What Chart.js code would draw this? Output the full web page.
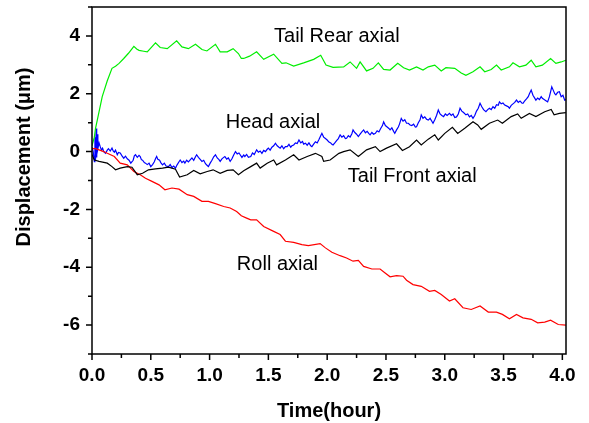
<!DOCTYPE html>
<html>
<head>
<meta charset="utf-8">
<script src="https://cdn.jsdelivr.net/npm/chart.js@4.4.1/dist/chart.umd.min.js"></script>
<style>
  html, body { margin: 0; padding: 0; background: #fff; }
</style>
</head>
<body>
<canvas id="chart" width="589" height="423"></canvas>
<script>
/* ── Data: [time (hour), displacement (µm)] ── */
const rearPts = [[0,0.2],[0.02,0.5],[0.03,0.8],[0.045,1.09],[0.087,1.9],[0.13,2.45],[0.17,2.88],[0.2,2.95],[0.23,3.05],[0.27,3.22],[0.31,3.4],[0.356,3.64],[0.38,3.55],[0.40,3.5],[0.44,3.47],[0.47,3.45],[0.54,3.76],[0.58,3.6],[0.64,3.56],[0.72,3.83],[0.765,3.62],[0.82,3.56],[0.88,3.71],[0.935,3.53],[0.977,3.48],[1.05,3.71],[1.09,3.45],[1.15,3.45],[1.20,3.56],[1.245,3.39],[1.27,3.22],[1.29,3.22],[1.34,3.3],[1.40,3.45],[1.46,3.19],[1.545,3.37],[1.615,3.05],[1.65,3.07],[1.715,2.96],[1.80,3.07],[1.885,3.19],[1.945,3.33],[1.99,2.99],[2.05,2.91],[2.14,2.93],[2.195,3.10],[2.25,2.88],[2.28,3.10],[2.335,2.79],[2.39,2.88],[2.435,3.07],[2.48,2.84],[2.535,2.82],[2.60,3.05],[2.65,2.9],[2.70,2.82],[2.76,2.93],[2.815,2.82],[2.86,2.93],[2.915,2.99],[2.97,2.79],[3.01,2.9],[3.085,2.88],[3.14,2.72],[3.18,2.64],[3.24,2.76],[3.30,2.93],[3.34,2.76],[3.395,2.84],[3.44,2.99],[3.48,2.82],[3.55,2.93],[3.58,3.07],[3.635,2.93],[3.69,2.99],[3.735,3.16],[3.775,2.93],[3.83,2.99],[3.90,3.22],[3.945,3.05],[3.99,3.1],[4.03,3.16]];

const frontPts = [[0,-0.1],[0.02,-0.29],[0.06,-0.34],[0.13,-0.4],[0.17,-0.52],[0.2,-0.63],[0.24,-0.57],[0.30,-0.52],[0.34,-0.54],[0.385,-0.80],[0.43,-0.75],[0.48,-0.63],[0.54,-0.6],[0.60,-0.57],[0.65,-0.54],[0.71,-0.61],[0.745,-0.88],[0.81,-0.80],[0.865,-0.65],[0.92,-0.77],[0.98,-0.69],[1.03,-0.63],[1.09,-0.75],[1.15,-0.65],[1.20,-0.63],[1.245,-0.80],[1.29,-0.66],[1.35,-0.52],[1.40,-0.40],[1.43,-0.57],[1.49,-0.40],[1.545,-0.29],[1.57,-0.46],[1.645,-0.29],[1.715,-0.11],[1.76,-0.29],[1.83,-0.17],[1.90,-0.06],[1.955,-0.17],[1.97,-0.34],[2.025,-0.29],[2.10,-0.06],[2.14,0],[2.195,0.06],[2.265,-0.17],[2.335,0.06],[2.41,0.17],[2.45,0],[2.505,0.12],[2.59,0.27],[2.64,0.04],[2.70,0.17],[2.76,0.40],[2.80,0.23],[2.86,0.43],[2.915,0.58],[2.945,0.40],[3.0,0.63],[3.065,0.84],[3.11,0.63],[3.17,0.81],[3.24,1.03],[3.28,0.92],[3.31,0.77],[3.38,0.98],[3.45,1.09],[3.49,0.98],[3.565,1.21],[3.62,1.30],[3.65,1.15],[3.72,1.32],[3.775,1.21],[3.85,1.38],[3.905,1.46],[3.93,1.27],[3.975,1.32],[4.03,1.35]];

const rollPts = [[0,0.1],[0.03,0.1],[0.06,0.06],[0.1,0.0],[0.13,-0.06],[0.19,-0.17],[0.24,-0.40],[0.30,-0.46],[0.356,-0.69],[0.41,-0.80],[0.455,-0.92],[0.51,-1.03],[0.57,-1.15],[0.62,-1.32],[0.68,-1.26],[0.74,-1.30],[0.81,-1.49],[0.865,-1.55],[0.935,-1.72],[0.99,-1.72],[1.05,-1.80],[1.12,-1.90],[1.175,-1.95],[1.23,-2.07],[1.27,-2.22],[1.315,-2.30],[1.35,-2.36],[1.40,-2.36],[1.46,-2.59],[1.545,-2.76],[1.60,-2.87],[1.645,-3.10],[1.715,-3.14],[1.785,-3.22],[1.84,-3.25],[1.94,-3.18],[1.985,-3.33],[2.04,-3.48],[2.11,-3.60],[2.165,-3.68],[2.22,-3.79],[2.265,-3.76],[2.31,-3.97],[2.38,-4.06],[2.45,-4.06],[2.49,-4.19],[2.535,-4.33],[2.59,-4.29],[2.645,-4.31],[2.675,-4.45],[2.73,-4.60],[2.80,-4.66],[2.87,-4.83],[2.915,-4.80],[2.97,-4.94],[3.04,-5.17],[3.085,-5.09],[3.155,-5.40],[3.225,-5.46],[3.30,-5.34],[3.37,-5.55],[3.44,-5.55],[3.49,-5.63],[3.55,-5.78],[3.61,-5.63],[3.665,-5.75],[3.735,-5.80],[3.79,-5.92],[3.85,-5.90],[3.90,-5.83],[3.965,-5.98],[4.03,-6.0]];

const headPts = [[0,0.15],[0.01,0.0],[0.02,-0.35],[0.025,0.5],[0.03,-0.3],[0.035,0.8],[0.04,-0.2],[0.045,0.6],[0.05,0.1],[0.06,0.3],[0.07,0.17],[0.08,0.05],[0.09,0.12],[0.1,0.0],[0.115,-0.06],[0.13,0.05],[0.14,0.1],[0.155,0.02],[0.17,0.12],[0.18,0.02],[0.19,-0.02],[0.2,0.05],[0.215,-0.11],[0.225,-0.03],[0.24,-0.05],[0.255,-0.15],[0.27,-0.23],[0.285,-0.16],[0.30,-0.25],[0.315,-0.3],[0.33,-0.40],[0.35,-0.3],[0.36,-0.15],[0.37,-0.11],[0.385,-0.2],[0.4,-0.13],[0.41,-0.17],[0.42,-0.28],[0.43,-0.3],[0.445,-0.38],[0.455,-0.40],[0.47,-0.45],[0.485,-0.4],[0.5,-0.52],[0.515,-0.45],[0.53,-0.35],[0.54,-0.25],[0.55,-0.17],[0.56,-0.27],[0.575,-0.3],[0.585,-0.38],[0.6,-0.46],[0.615,-0.4],[0.63,-0.5],[0.65,-0.52],[0.665,-0.45],[0.68,-0.55],[0.695,-0.5],[0.71,-0.57],[0.725,-0.45],[0.74,-0.35],[0.75,-0.29],[0.765,-0.38],[0.78,-0.33],[0.79,-0.40],[0.805,-0.3],[0.82,-0.36],[0.835,-0.29],[0.85,-0.22],[0.865,-0.3],[0.88,-0.18],[0.89,-0.11],[0.905,-0.2],[0.92,-0.27],[0.935,-0.34],[0.95,-0.3],[0.965,-0.42],[0.98,-0.48],[0.99,-0.52],[1.005,-0.4],[1.02,-0.3],[1.035,-0.18],[1.05,-0.11],[1.065,-0.22],[1.08,-0.28],[1.09,-0.34],[1.105,-0.25],[1.12,-0.2],[1.13,-0.17],[1.145,-0.26],[1.16,-0.22],[1.175,-0.34],[1.19,-0.25],[1.205,-0.12],[1.22,0],[1.235,-0.08],[1.25,-0.05],[1.26,-0.11],[1.275,-0.2],[1.29,-0.12],[1.30,-0.17],[1.315,-0.1],[1.33,-0.2],[1.35,-0.17],[1.365,-0.05],[1.38,-0.1],[1.40,0.06],[1.415,-0.02],[1.43,0.02],[1.445,-0.06],[1.46,0.04],[1.475,0.0],[1.49,0.08],[1.50,0.12],[1.515,0.05],[1.53,0.15],[1.545,0.2],[1.56,0.29],[1.575,0.2],[1.59,0.15],[1.60,0.12],[1.615,0.2],[1.63,0.1],[1.645,0.17],[1.66,0.17],[1.675,0.25],[1.69,0.15],[1.7,0.2],[1.715,0.23],[1.73,0.3],[1.745,0.28],[1.76,0.40],[1.775,0.3],[1.79,0.35],[1.80,0.26],[1.815,0.29],[1.83,0.22],[1.845,0.3],[1.86,0.2],[1.87,0.17],[1.885,0.26],[1.9,0.34],[1.915,0.3],[1.93,0.42],[1.945,0.55],[1.955,0.63],[1.97,0.5],[1.985,0.45],[2.0,0.40],[2.015,0.33],[2.03,0.3],[2.04,0.25],[2.05,0.23],[2.065,0.3],[2.08,0.38],[2.095,0.45],[2.11,0.58],[2.125,0.5],[2.14,0.55],[2.155,0.45],[2.165,0.46],[2.18,0.55],[2.195,0.5],[2.21,0.62],[2.22,0.75],[2.235,0.66],[2.25,0.6],[2.265,0.52],[2.28,0.6],[2.295,0.68],[2.31,0.75],[2.325,0.65],[2.34,0.7],[2.355,0.62],[2.365,0.58],[2.38,0.66],[2.395,0.6],[2.41,0.63],[2.425,0.72],[2.44,0.68],[2.455,0.8],[2.47,0.9],[2.48,1.03],[2.495,0.9],[2.51,0.85],[2.525,0.8],[2.535,0.75],[2.55,0.82],[2.565,0.7],[2.575,0.63],[2.59,0.75],[2.605,0.85],[2.615,0.95],[2.63,1.15],[2.645,1.05],[2.66,1.1],[2.675,0.98],[2.69,0.98],[2.705,0.92],[2.72,0.9],[2.735,0.95],[2.75,0.85],[2.76,0.86],[2.775,1.0],[2.79,1.1],[2.80,1.27],[2.815,1.15],[2.83,1.2],[2.845,1.12],[2.86,1.09],[2.875,1.15],[2.89,1.05],[2.90,0.98],[2.915,1.1],[2.93,1.25],[2.945,1.44],[2.96,1.3],[2.975,1.25],[2.99,1.21],[3.005,1.3],[3.02,1.25],[3.04,1.32],[3.055,1.25],[3.07,1.3],[3.085,1.18],[3.1,1.2],[3.115,1.3],[3.13,1.50],[3.145,1.4],[3.16,1.35],[3.18,1.27],[3.195,1.3],[3.21,1.2],[3.225,1.25],[3.24,1.15],[3.255,1.25],[3.27,1.4],[3.285,1.5],[3.30,1.67],[3.315,1.55],[3.33,1.45],[3.35,1.38],[3.365,1.45],[3.38,1.5],[3.395,1.45],[3.41,1.55],[3.425,1.5],[3.44,1.62],[3.455,1.6],[3.465,1.72],[3.48,1.65],[3.495,1.68],[3.51,1.61],[3.525,1.58],[3.54,1.55],[3.55,1.50],[3.565,1.6],[3.58,1.65],[3.595,1.7],[3.61,1.78],[3.625,1.7],[3.64,1.75],[3.655,1.68],[3.665,1.67],[3.68,1.75],[3.695,1.82],[3.71,1.9],[3.72,2.0],[3.735,2.13],[3.75,1.95],[3.765,1.85],[3.775,1.78],[3.79,1.85],[3.805,1.8],[3.82,1.9],[3.83,1.84],[3.845,1.8],[3.86,1.76],[3.875,1.72],[3.89,1.9],[3.91,2.24],[3.925,2.1],[3.935,2.0],[3.945,1.96],[3.96,2.05],[3.975,2.07],[3.99,1.9],[4.005,1.95],[4.02,1.78],[4.03,1.8]];

const seriesNames = ['Tail Front axial', 'Roll axial', 'Tail Rear axial', 'Head axial'];

/* ── Axis ranges ── */
const xMin = 0, xMax = 4.031, xStep = 0.25;
const yMin = -7, yMax = 5, yStep = 1;
const xTitle = 'Time(hour)';
const yTitle = 'Displacement (\u03bcm)';

const FONT = '"Liberation Sans", Arial, sans-serif';

/* ── Helpers ── */
const toXY = pts => pts.map(p => ({ x: p[0], y: p[1] }));
const isMajorX = v => Math.abs(v * 2 - Math.round(v * 2)) < 1e-6;
const isMajorY = v => Math.abs(v % 2) < 1e-6;

function lineSet(label, pts, color) {
  return {
    label, data: toXY(pts),
    borderColor: color, borderWidth: 1.2,
    pointRadius: 0, tension: 0, fill: false,
  };
}

// drop the half-label padding Chart.js reserves around the axes
function fixBox(size) {
  return s => {
    if (s.isHorizontal()) s.height = size; else s.width = size;
    s.paddingTop = 0; s.paddingBottom = 0; s.paddingLeft = 0; s.paddingRight = 0;
  };
}

/* ── Frame, tick marks, in-plot labels and axis titles ── */
const decor = {
  id: 'decor',
  afterDatasetsDraw(chart) {
    const { ctx, chartArea: a, scales: { x, y } } = chart;
    ctx.save();
    ctx.strokeStyle = '#000';
    ctx.lineWidth = 1.5;
    ctx.strokeRect(a.left, a.top, a.right - a.left, a.bottom - a.top);

    ctx.beginPath();
    x.ticks.forEach(t => {
      const px = x.getPixelForValue(t.value);
      ctx.moveTo(px, a.bottom);
      ctx.lineTo(px, a.bottom + (isMajorX(t.value) ? 6 : 4));
    });
    y.ticks.forEach(t => {
      const py = y.getPixelForValue(t.value);
      ctx.moveTo(a.left, py);
      ctx.lineTo(a.left - (isMajorY(t.value) ? 6 : 4), py);
    });
    ctx.stroke();

    // series labels, anchored in data units
    const spots = [[2.175, -1.04], [1.232, -4.10], [1.548, 3.80], [1.137, 0.81]];
    ctx.fillStyle = '#000';
    ctx.font = '20px ' + FONT;
    ctx.textBaseline = 'alphabetic';
    ctx.textAlign = 'left';
    seriesNames.forEach((name, i) => {
      ctx.fillText(name, x.getPixelForValue(spots[i][0]), y.getPixelForValue(spots[i][1]));
    });

    // axis titles
    ctx.font = 'bold 20px ' + FONT;
    ctx.textAlign = 'center';
    ctx.textBaseline = 'middle';
    ctx.fillText(xTitle, (a.left + a.right) / 2, 411);
    ctx.translate(24, 157);
    ctx.rotate(-Math.PI / 2);
    ctx.fillText(yTitle, 0, 0);
    ctx.restore();
  }
};

/* ── Build chart ── */
new Chart(document.getElementById('chart'), {
  type: 'line',
  data: {
    datasets: [
      lineSet(seriesNames[0], frontPts, '#000000'),
      lineSet(seriesNames[1], rollPts, '#ff0000'),
      lineSet(seriesNames[2], rearPts, '#00ee00'),
      lineSet(seriesNames[3], headPts, '#0000ff'),
    ]
  },
  options: {
    responsive: false, animation: false,
    layout: { padding: { top: 7, right: 23, bottom: 0, left: 0 } },
    plugins: { legend: { display: false }, tooltip: { enabled: false } },
    scales: {
      x: {
        type: 'linear', min: xMin, max: xMax,
        grid: { display: false, drawTicks: false },
        border: { display: false },
        ticks: {
          stepSize: xStep, includeBounds: false, autoSkip: false, maxRotation: 0,
          padding: 10, color: '#000',
          font: { family: FONT, size: 19, weight: 'bold' },
          callback: v => isMajorX(v) ? v.toFixed(1) : '',
        },
        afterFit: fixBox(69),
      },
      y: {
        type: 'linear', min: yMin, max: yMax,
        grid: { display: false, drawTicks: false },
        border: { display: false },
        ticks: {
          stepSize: yStep, includeBounds: false, autoSkip: false,
          padding: 12, color: '#000',
          font: { family: FONT, size: 19, weight: 'bold' },
          callback: v => isMajorY(v) ? String(v) : '',
        },
        afterFit: fixBox(92),
      }
    }
  },
  plugins: [decor]
});
</script>
</body>
</html>
